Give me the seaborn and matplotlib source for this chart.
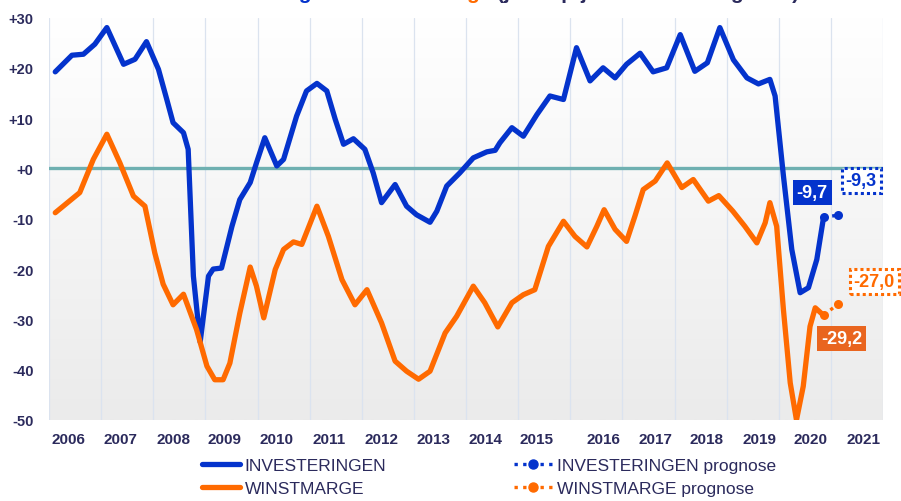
import matplotlib
matplotlib.use("Agg")
import matplotlib.pyplot as plt
import numpy as np
import pandas as pd
import seaborn as sns
from matplotlib.colors import LinearSegmentedColormap
from matplotlib.lines import Line2D
from matplotlib.transforms import offset_copy

BLUE = "#0433cc"
ORANGE = "#ff6a00"
ORANGE_BOX = "#e9651f"
TEXT = "#2b2a5c"
ZERO = "#6fb0b1"
GRID = "#dbe3ef"
FONT = ["Liberation Sans", "DejaVu Sans"]

# investeringen (blauw), jaar-op-jaar in %
invest_year = [2006.12, 2006.44, 2006.66, 2006.88, 2007.11, 2007.43, 2007.65, 2007.87,
               2008.10, 2008.26, 2008.38, 2008.58, 2008.67, 2008.77, 2008.90,
               2009.06, 2009.15, 2009.31, 2009.51, 2009.66, 2009.86, 2009.98,
               2010.14, 2010.37, 2010.50, 2010.75, 2010.94, 2011.14, 2011.33, 2011.49,
               2011.65, 2011.84, 2012.06, 2012.22, 2012.38, 2012.64, 2012.86, 2013.05,
               2013.31, 2013.44, 2013.63, 2013.88, 2014.14, 2014.40, 2014.56, 2014.65,
               2014.88, 2015.10, 2015.36, 2015.61, 2015.87, 2016.12, 2016.38, 2016.63,
               2016.86, 2017.08, 2017.34, 2017.59, 2017.85, 2018.11, 2018.39, 2018.63,
               2018.87, 2019.13, 2019.39, 2019.61, 2019.83, 2019.93, 2020.09, 2020.25,
               2020.41, 2020.57, 2020.73, 2020.86]
invest_value = [19.2, 22.5, 22.7, 24.7, 28.0, 20.7, 21.7, 25.2,
                19.7, 13.7, 9.1, 7.1, 3.8, -21.4, -34.5,
                -21.4, -20.0, -19.8, -11.5, -6.2, -2.8, 1.1,
                6.1, 0.5, 1.8, 10.4, 15.4, 16.9, 15.4, 9.8,
                4.8, 5.9, 3.8, -0.9, -6.8, -3.2, -7.5, -9.2,
                -10.7, -8.5, -3.5, -0.9, 2.1, 3.3, 3.6, 5.1,
                8.1, 6.4, 10.7, 14.4, 13.7, 24.0, 17.4, 20.0,
                18.0, 20.7, 22.9, 19.2, 20.0, 26.6, 19.3, 21.0,
                28.0, 21.6, 18.0, 16.8, 17.7, 14.4, -1.5, -16.1,
                -24.7, -23.7, -18.1, -9.7]

# winstmarge (oranje)
marge_year = [2006.12, 2006.59, 2006.85, 2007.11, 2007.36, 2007.62, 2007.84,
              2008.03, 2008.19, 2008.38, 2008.58, 2008.83, 2009.03, 2009.18, 2009.34,
              2009.47, 2009.66, 2009.86, 2009.98, 2010.12, 2010.34, 2010.50, 2010.69,
              2010.85, 2011.14, 2011.36, 2011.62, 2011.87, 2012.10, 2012.38, 2012.64,
              2012.86, 2013.09, 2013.31, 2013.60, 2013.82, 2014.14, 2014.36, 2014.61,
              2014.88, 2015.10, 2015.32, 2015.58, 2015.87, 2016.09, 2016.32, 2016.51,
              2016.65, 2016.86, 2017.08, 2017.24, 2017.40, 2017.63, 2017.86, 2018.14,
              2018.36, 2018.65, 2018.85, 2019.12, 2019.35, 2019.58, 2019.74, 2019.83,
              2019.96, 2020.09, 2020.22, 2020.34, 2020.47, 2020.60, 2020.70, 2020.86]
marge_value = [-8.8, -4.8, 1.8, 6.8, 1.1, -5.5, -7.5,
               -16.8, -23.0, -27.1, -25.0, -32.0, -39.3, -42.0, -42.0,
               -38.7, -28.8, -19.6, -23.4, -29.7, -20.1, -16.1, -14.6,
               -15.1, -7.5, -13.5, -22.1, -27.1, -24.1, -30.7, -38.3,
               -40.3, -41.9, -40.3, -32.7, -29.4, -23.4, -26.7, -31.5,
               -26.7, -25.1, -24.1, -15.5, -10.5, -13.5, -15.6, -11.5,
               -8.2, -12.1, -14.5, -9.5, -4.2, -2.5, 1.1, -3.8,
               -2.2, -6.5, -5.4, -8.5, -11.5, -14.8, -10.8, -6.8,
               -11.5, -28.1, -42.6, -50.0, -43.3, -31.4, -27.7, -29.2]

# prognose: laatste waarneming -> prognose
forecast_year = [2020.86, 2021.13]
invest_forecast = [-9.7, -9.3]
marge_forecast = [-29.2, -27.0]

year_labels = [str(y) for y in range(2006, 2022)]
year_label_pos = [2006.38, 2007.38, 2008.38, 2009.37, 2010.37, 2011.37, 2012.37,
                  2013.37, 2014.37, 2015.36, 2016.63, 2017.63, 2018.62, 2019.64,
                  2020.60, 2021.62]
y_ticks = [30, 20, 10, 0, -10, -20, -30, -40, -50]
y_tick_labels = ["+30", "+20", "+10", "+0", "-10", "-20", "-30", "-40", "-50"]

sns.set_theme(style="white")
plt.rcParams["font.family"] = FONT

actual = pd.concat([
    pd.DataFrame({"jaar": invest_year, "waarde": invest_value, "reeks": "INVESTERINGEN"}),
    pd.DataFrame({"jaar": marge_year, "waarde": marge_value, "reeks": "WINSTMARGE"}),
])
prognose = pd.concat([
    pd.DataFrame({"jaar": forecast_year, "waarde": invest_forecast, "reeks": "INVESTERINGEN"}),
    pd.DataFrame({"jaar": forecast_year, "waarde": marge_forecast, "reeks": "WINSTMARGE"}),
])
palette = {"INVESTERINGEN": BLUE, "WINSTMARGE": ORANGE}

fig = plt.figure(figsize=(9.01, 5.02), dpi=100)
ax = fig.add_axes([49 / 901, 1 - 421 / 502, 834 / 901, 402.5 / 502])

# verloop in de achtergrond van het plotvlak
bg = LinearSegmentedColormap.from_list("bg", ["#ffffff", "#ebebeb"])
ax.imshow(np.linspace(0, 1, 256).reshape(-1, 1), cmap=bg, aspect="auto",
          extent=[0, 1, 0, 1], transform=ax.transAxes, zorder=0)

ax.axhline(0, color=ZERO, lw=2.4, zorder=2)

sns.lineplot(data=actual, x="jaar", y="waarde", hue="reeks", palette=palette,
             estimator=None, sort=False, legend=False, lw=3.8,
             solid_joinstyle="round", solid_capstyle="round", ax=ax, zorder=4)
for name, grp in prognose.groupby("reeks"):
    sns.lineplot(data=grp, x="jaar", y="waarde", color=palette[name], estimator=None,
                 linestyle=(0, (1, 1.6)), lw=2.4, marker="o", markersize=6.5,
                 markeredgewidth=0, legend=False, ax=ax, zorder=5)

ax.set_xlim(2006, 2022)
ax.set_ylim(-50, 30)
ax.set_xticks(range(2006, 2023), minor=True)
ax.set_xticks(year_label_pos)
ax.set_xticklabels(year_labels)
ax.set_yticks(y_ticks)
ax.set_yticklabels(y_tick_labels)
ax.grid(which="minor", axis="x", color=GRID, lw=0.9, zorder=1)
ax.grid(which="major", visible=False)
ax.tick_params(which="both", length=0)
ax.tick_params(axis="x", pad=9, labelsize=11, labelcolor=TEXT)
ax.tick_params(axis="y", pad=11, labelsize=10.5, labelcolor=TEXT)
for lab in ax.get_xticklabels() + ax.get_yticklabels():
    lab.set_fontweight("bold")
for side in ax.spines.values():
    side.set_visible(False)
ax.set_xlabel("")
ax.set_ylabel("")

# waarden in kaders
box_kw = dict(ha="center", va="center", fontsize=13, fontweight="bold", zorder=6)
ax.text(2020.64, -4.7, "-9,7", color="white",
        bbox=dict(boxstyle="square,pad=0.22", fc=BLUE, ec="none"), **box_kw)
ax.text(2021.58, -2.4, "-9,3", color=BLUE, clip_on=False,
        bbox=dict(boxstyle="square,pad=0.22", fc="white", ec=BLUE, lw=2.2, ls=(0, (1, 1))),
        **box_kw)
ax.text(2021.83, -22.5, "-27,0", color=ORANGE, clip_on=False,
        bbox=dict(boxstyle="square,pad=0.22", fc="white", ec=ORANGE, lw=2.2, ls=(0, (1, 1))),
        **box_kw)
ax.text(2021.21, -33.8, "-29,2", color="white",
        bbox=dict(boxstyle="square,pad=0.22", fc=ORANGE_BOX, ec="none"), **box_kw)

# titel: valt grotendeels buiten beeld, stukken achter elkaar gezet
title_parts = [("Investeringen ", BLUE), ("en ", TEXT), ("Winstmarge ", ORANGE),
               ("(jaar-op-jaar verandering in %)", TEXT)]
renderer = fig.canvas.get_renderer()
x0 = 200
for part, col in title_parts:
    t = fig.text(x0 / 901, 1 + 0.6 / 502, part, color=col, fontsize=15, fontweight="bold",
                 va="baseline", ha="left")
    x0 += t.get_window_extent(renderer).width

leg_font = dict(family=FONT, size=12.5)
solid = [Line2D([], [], color=BLUE, lw=3.8, solid_capstyle="round"),
         Line2D([], [], color=ORANGE, lw=3.8, solid_capstyle="round")]
dotted = [Line2D([], [], color=BLUE, lw=2.4, ls=(0, (1, 1.6)), marker="o", markersize=6.5),
          Line2D([], [], color=ORANGE, lw=2.4, ls=(0, (1, 1.6)), marker="o", markersize=6.5)]
fig.legend(solid, ["INVESTERINGEN", "WINSTMARGE"], loc="center left",
           bbox_to_anchor=(202 / 901, 1 - 478 / 502), frameon=False, prop=leg_font,
           labelcolor=TEXT, handlelength=2.2, handletextpad=0.25, labelspacing=0.5,
           borderpad=0, borderaxespad=0)
fig.legend(dotted, ["INVESTERINGEN prognose", "WINSTMARGE prognose"], loc="center left",
           bbox_to_anchor=(514 / 901, 1 - 478 / 502), frameon=False, prop=leg_font,
           labelcolor=TEXT, handlelength=2.2, handletextpad=0.25, labelspacing=0.5,
           borderpad=0, borderaxespad=0, numpoints=1)

fig.savefig("out.png", dpi=100)
